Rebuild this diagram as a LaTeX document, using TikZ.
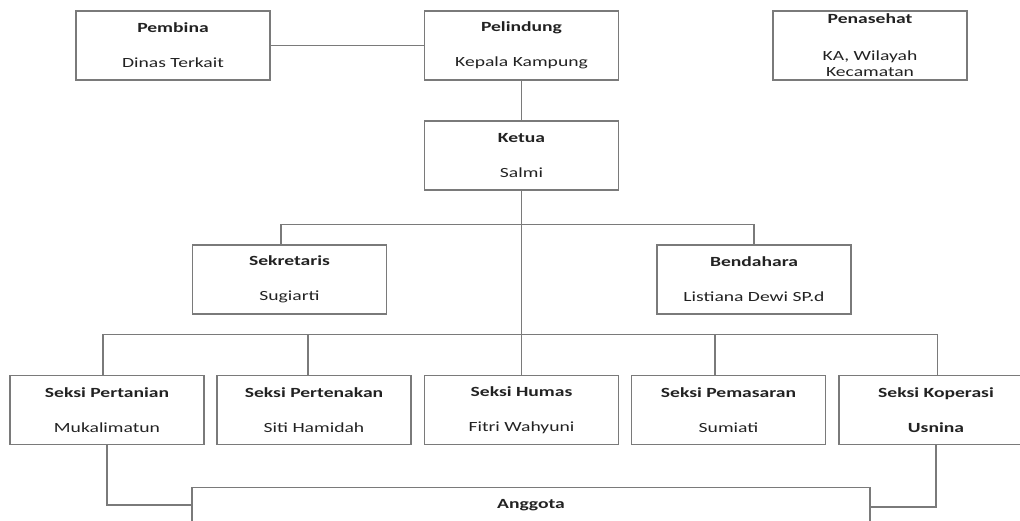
\documentclass[tikz,border=0pt]{standalone}
\usepackage{fontspec}
\usepackage{graphicx}
\setmainfont{Carlito}
\definecolor{linegray}{HTML}{7A7A7A}
\definecolor{txt}{HTML}{222222}
\newcommand{\W}[1]{\scalebox{1.4}[1]{#1}}
\tikzset{
  orgbox/.style={draw=linegray, line width=1.1pt, minimum width=194pt, minimum height=69pt,
    inner sep=0pt, align=center, text=txt, font=\fontsize{14}{17}\selectfont},
  conn/.style={draw=linegray, line width=1.1pt},
  lbl/.style={inner sep=0pt, text=txt, font=\fontsize{14}{17}\selectfont}
}
\begin{document}
\begin{tikzpicture}[x=1pt, y=-1pt]
\useasboundingbox (0,0) rectangle (1020,521);
\clip (0,0) rectangle (1020,521);
% top row
\node[orgbox] (pembina) at (173,45.5) {\W{\textbf{Pembina}}\\[18pt]\W{Dinas Terkait}};
\node[orgbox] (pelindung) at (521.5,45.5) {\W{\textbf{Pelindung}}\\[18pt]\W{Kepala Kampung}};
\node[orgbox] (penasehat) at (870,45.5) {\W{\textbf{Penasehat}}\\[20pt]\W{KA, Wilayah}\\[-1pt]\W{Kecamatan}};
\node[orgbox] (ketua) at (521.5,155.5) {\W{\textbf{Ketua}}\\[18pt]\W{Salmi}};
% second row
\node[orgbox] (sekretaris) at (289.5,279.5) {\W{\textbf{Sekretaris}}\\[18pt]\W{Sugiarti}};
\node[orgbox] (bendahara) at (754,279.5) {\W{\textbf{Bendahara}}\\[18pt]\W{Listiana Dewi SP.d}};
% seksi row
\node[orgbox] (pertanian) at (107,410) {\W{\textbf{Seksi Pertanian}}\\[18pt]\W{Mukalimatun}};
\node[orgbox] (pertenakan) at (314,410) {\W{\textbf{Seksi Pertenakan}}\\[18pt]\W{Siti Hamidah}};
\node[orgbox] (humas) at (521.5,410) {\W{\textbf{Seksi Humas}}\\[18pt]\W{Fitri Wahyuni}};
\node[orgbox] (pemasaran) at (728.5,410) {\W{\textbf{Seksi Pemasaran}}\\[18pt]\W{Sumiati}};
\node[orgbox] (koperasi) at (936,410) {\W{\textbf{Seksi Koperasi}}\\[18pt]\W{\textbf{Usnina}}};
% anggota
\node[orgbox, anchor=north, minimum width=678pt, minimum height=80pt] (anggota) at (531,486.5) {};
\node[lbl] (anggotat) at (531,505) {\W{\textbf{Anggota}}};
% bus coordinates
\coordinate (bus1l) at (281,224.5);
\coordinate (bus1r) at (754,224.5);
\coordinate (bus2l) at (103,334.5);
\coordinate (bus2b) at (308,334.5);
\coordinate (bus2d) at (715,334.5);
\coordinate (bus2r) at (937.5,334.5);
\coordinate (pl) at (107,505);
\coordinate (kl) at (936,507);
% connectors
\draw[conn] (pembina.east) -- (pelindung.west);
\draw[conn] (pelindung.south) -- (ketua.north);
\draw[conn] (ketua.south) -- (humas.north);
\draw[conn] (bus1l |- sekretaris.north) -- (bus1l) -- (bus1r) -- (bendahara.north);
\draw[conn] (bus2l |- pertanian.north) -- (bus2l) -- (bus2r) -- (bus2r |- koperasi.north);
\draw[conn] (bus2b) -- (bus2b |- pertenakan.north);
\draw[conn] (bus2d) -- (bus2d |- pemasaran.north);
\draw[conn] (pertanian.south) -- (pl) -- (pl -| anggota.west);
\draw[conn] (kl |- koperasi.south) -- (kl) -- (kl -| anggota.east);
\end{tikzpicture}
\end{document}
